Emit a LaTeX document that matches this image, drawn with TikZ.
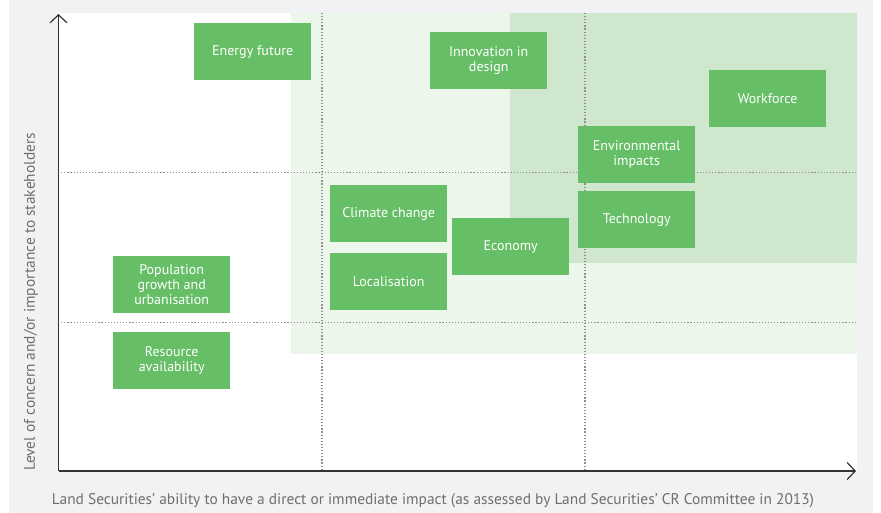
\documentclass[tikz,border=0pt]{standalone}
\usepackage{fontspec}
\setmainfont{PT Sans}
\usetikzlibrary{arrows.meta}
\definecolor{bggray}{HTML}{F1F2F4}
\definecolor{boxgreen}{HTML}{66BF66}
\definecolor{lightgreen}{HTML}{ECF6EB}
\definecolor{midgreen}{HTML}{CFE7CC}
\definecolor{dotgray}{HTML}{8E8E8E}
\definecolor{axisgray}{HTML}{333333}
\definecolor{labelgray}{HTML}{6E6E6E}
\tikzset{
  issue/.style={fill=boxgreen, text=white, minimum width=117pt, minimum height=57pt,
    inner sep=0pt, align=center, font=\fontsize{14}{14.8}\selectfont, anchor=north west},
  dotline/.style={draw=dotgray, line width=1.4pt, dash pattern=on 1.2pt off 1.9pt},
  axisline/.style={draw=axisgray, line width=1.2pt, -{Straight Barb[length=8pt,width=17pt,line width=1.2pt]}},
  axislabel/.style={text=labelgray, font=\fontsize{15.4}{17}\selectfont, inner sep=0pt}
}
\begin{document}
\begin{tikzpicture}[x=1pt,y=-1pt]
\useasboundingbox (0,0) rectangle (881,513);
\fill[white] (0,0) rectangle (881,513);
\fill[bggray] (9,0) rectangle (873,513);
\fill[white] (58,13) rectangle (857,471);
\fill[lightgreen] (291,13) rectangle (857,354);
\fill[midgreen] (510,13) rectangle (857,263);
% dotted grid
\coordinate (v1t) at (322,13); \coordinate (v1b) at (322,471);
\coordinate (v2t) at (585,13); \coordinate (v2b) at (585,471);
\coordinate (h1l) at (58,172.5); \coordinate (h1r) at (857,172.5);
\coordinate (h2l) at (58,322.5); \coordinate (h2r) at (857,322.5);
\draw[dotline] (v1t) -- (v1b);
\draw[dotline] (v2t) -- (v2b);
\draw[dotline] (h1l) -- (h1r);
\draw[dotline] (h2l) -- (h2r);
% axes
\coordinate (origin) at (58.5,471);
\coordinate (ytip) at (58.5,14);
\coordinate (xtip) at (856,471);
\draw[axisline] (origin) -- (ytip);
\draw[axisline] (origin) -- (xtip);
% issues
\node[issue] (energy) at (194,23) {Energy future};
\node[issue] (innov) at (430,32) {Innovation in\\design};
\node[issue] (work) at (709,70) {Workforce};
\node[issue] (env) at (578,126) {Environmental\\impacts};
\node[issue] (tech) at (578,191) {Technology};
\node[issue] (climate) at (330,185) {Climate change};
\node[issue] (econ) at (452,218) {Economy};
\node[issue] (local) at (330,253) {Localisation};
\node[issue] (pop) at (113,256) {Population\\growth and\\urbanisation};
\node[issue] (res) at (113,332) {Resource\\availability};
% axis labels
\node[axislabel, rotate=90] (ylab) at (31,302) {Level of concern and/or importance to stakeholders};
\node[axislabel] (xlab) at (433,501) {Land Securities’ ability to have a direct or immediate impact (as assessed by Land Securities’ CR Committee in 2013)};
\end{tikzpicture}
\end{document}
